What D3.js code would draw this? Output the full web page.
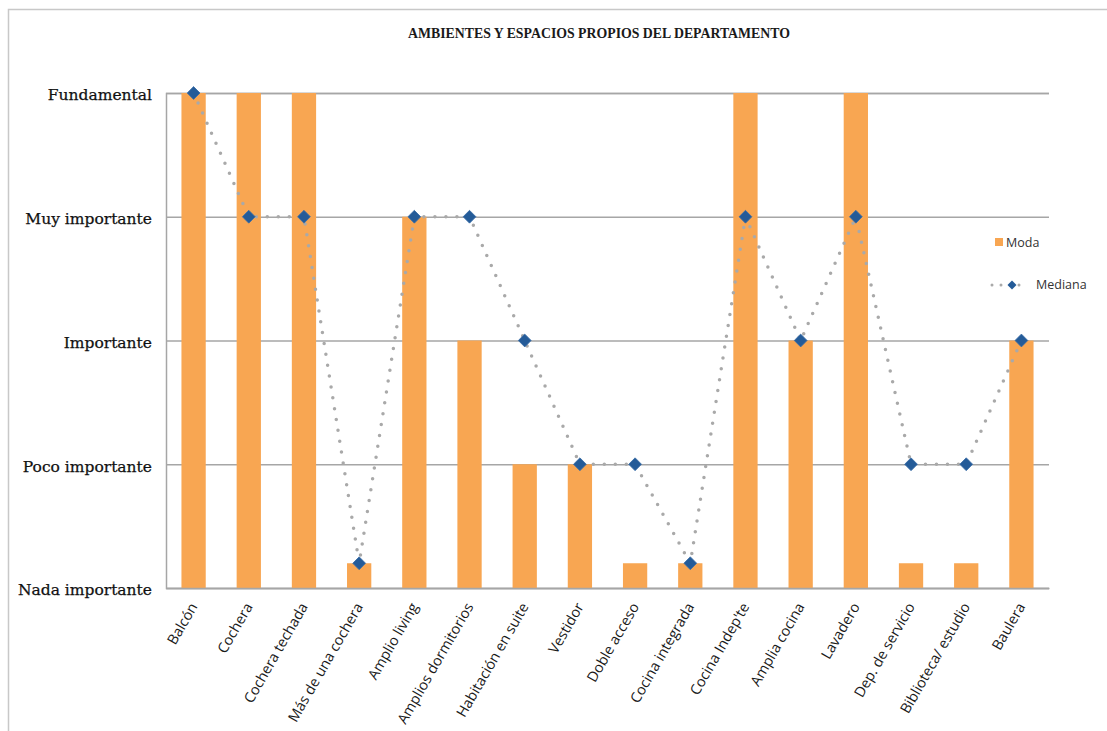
<!DOCTYPE html>
<html>
<head>
<meta charset="utf-8">
<script src="https://cdn.jsdelivr.net/npm/d3@7"></script>
<style>
  html, body { margin: 0; padding: 0; background: #fff; }
  svg { display: block; }
</style>
</head>
<body>
<svg id="chart" width="1107" height="731"></svg>
<script>
// Ambientes evaluados
const categories = [
  "Balcón", "Cochera", "Cochera techada", "Más de una cochera", "Amplio living",
  "Amplios dormitorios", "Habitación en suite", "Vestidor", "Doble acceso",
  "Cocina integrada", "Cocina Indep'te", "Amplia cocina", "Lavadero",
  "Dep. de servicio", "Biblioteca/ estudio", "Baulera"
];
// Escala ordinal: 0 = Nada importante ... 4 = Fundamental ("Nada" se muestra con 0.2)
const moda    = [4, 4, 4, 0.2, 3, 2, 1, 1, 0.2, 0.2, 4, 2, 4, 0.2, 0.2, 2];
const mediana = [4, 3, 3, 0.2, 3, 3, 2, 1, 1, 0.2, 3, 2, 3, 1, 1, 2];
const tickValues = [0, 1, 2, 3, 4];
const tickLabels = ["Nada importante", "Poco importante", "Importante", "Muy importante", "Fundamental"];

const svg = d3.select("#chart");
const W = 1107, H = 731;
const plot = { left: 166, right: 1049, top: 93, bottom: 588 };

// marco exterior
svg.append("rect")
  .attr("x", 8.5).attr("y", 9.5)
  .attr("width", W + 10).attr("height", H + 10)
  .attr("fill", "none").attr("stroke", "#c8c8c8").attr("stroke-width", 1.5);

const x = d3.scaleBand().domain(categories).range([plot.left, plot.right]).paddingInner(0.56).paddingOuter(0.28);
const y = d3.scaleLinear().domain([0, 4]).range([plot.bottom, plot.top]);

// título
svg.append("text")
  .attr("x", 599).attr("y", 38)
  .attr("text-anchor", "middle")
  .attr("font-family", "'Liberation Serif', serif")
  .attr("font-weight", "bold")
  .attr("font-size", 13.8)
  .attr("fill", "#1a1a1a")
  .text("AMBIENTES Y ESPACIOS PROPIOS DEL DEPARTAMENTO");

// líneas de cuadrícula
const yAxis = d3.axisLeft(y).tickValues(tickValues).tickSize(-(plot.right - plot.left)).tickFormat((d, i) => tickLabels[i]).tickPadding(14);
const gy = svg.append("g").attr("transform", `translate(${plot.left},0)`).call(yAxis);
gy.select(".domain").attr("stroke", "#a6a6a6").attr("stroke-width", 1.5);
gy.selectAll(".tick line").attr("stroke", "#a6a6a6").attr("stroke-width", 1.5);
gy.selectAll(".tick text")
  .attr("font-family", "'DejaVu Serif', serif")
  .attr("font-size", 15.5)
  .attr("fill", "#111")
  .attr("stroke", "#111").attr("stroke-width", 0.25)
  .attr("dy", "0.45em");

// barras (Moda)
svg.append("g").selectAll("rect").data(moda).join("rect")
  .attr("x", (d, i) => x(categories[i]))
  .attr("y", d => y(d))
  .attr("width", x.bandwidth())
  .attr("height", d => y(0) - y(d))
  .attr("fill", "#F8A652");

// eje inferior y etiquetas rotadas
const xAxis = d3.axisBottom(x).tickSize(0).tickPadding(0);
const gx = svg.append("g").attr("transform", `translate(0,${plot.bottom})`).call(xAxis);
gx.select(".domain").attr("stroke", "#a6a6a6").attr("stroke-width", 1.5);
gx.selectAll(".tick text")
  .attr("font-family", "'Open Sans', sans-serif")
  .attr("font-size", 14.4)
  .attr("fill", "#1a1a1a")
  .attr("text-anchor", "end")
  .attr("transform", "translate(0,16) rotate(-60)")
  .attr("dy", "0.35em");

// línea punteada (Mediana)
const cx = (d, i) => x(categories[i]) + x.bandwidth() / 2;
const line = d3.line().x(cx).y(d => y(d));
svg.append("path")
  .datum(mediana)
  .attr("d", line)
  .attr("fill", "none")
  .attr("stroke", "#a9a9a9")
  .attr("stroke-width", 3.5)
  .attr("stroke-linecap", "round")
  .attr("stroke-dasharray", "0 11");

const diamond = d3.symbol().type(d3.symbolSquare).size(82);
svg.append("g").selectAll("path").data(mediana).join("path")
  .attr("d", diamond)
  .attr("transform", (d, i) => `translate(${cx(d, i)},${y(d)}) rotate(45)`)
  .attr("fill", "#245B98")
  .attr("stroke", "#3b6ea8")
  .attr("stroke-width", 0.8);

// leyenda
const lg = svg.append("g").attr("font-family", "'Open Sans', sans-serif").attr("font-size", 12.5).attr("fill", "#333");
lg.append("rect").attr("x", 995).attr("y", 238).attr("width", 8).attr("height", 8).attr("fill", "#F8A652");
lg.append("text").attr("x", 1006).attr("y", 247).text("Moda");
lg.append("line").attr("x1", 992).attr("x2", 1028).attr("y1", 285).attr("y2", 285)
  .attr("stroke", "#a9a9a9").attr("stroke-width", 3).attr("stroke-linecap", "round").attr("stroke-dasharray", "0 9");
lg.append("path").attr("d", d3.symbol().type(d3.symbolSquare).size(40))
  .attr("transform", "translate(1012,285) rotate(45)").attr("fill", "#245B98");
lg.append("text").attr("x", 1036).attr("y", 289).text("Mediana");
</script>
</body>
</html>
